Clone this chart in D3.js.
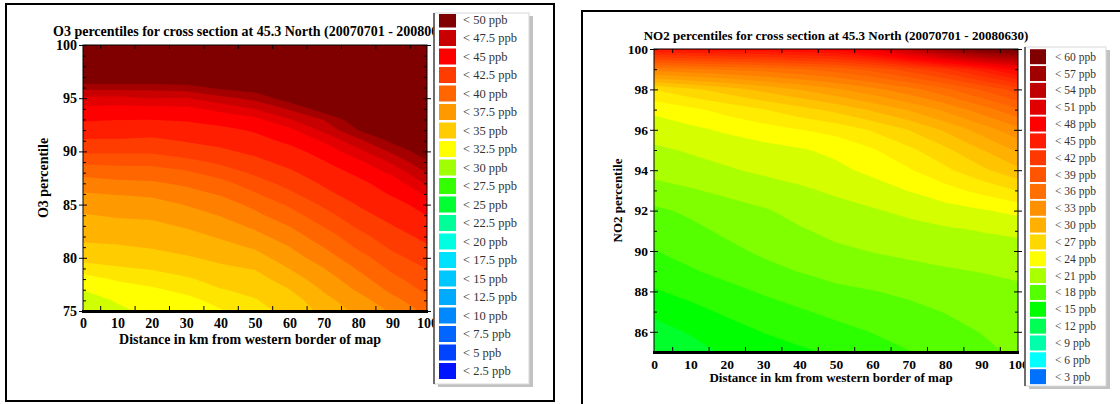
<!DOCTYPE html>
<html>
<head>
<meta charset="utf-8">
<script src="https://cdn.jsdelivr.net/npm/d3@7"></script>
<style>
  body { margin: 0; background: #fff; }
  text { font-family: "Liberation Serif", "Times New Roman", serif; }
</style>
</head>
<body>
<svg id="chart" width="1120" height="404"></svg>
<script>
// Distance along the cross section (km), shared by both panels
const distances = [0, 10, 20, 30, 40, 50, 60, 70, 80, 90, 100];
const distanceTicks = [0, 10, 20, 30, 40, 50, 60, 70, 80, 90, 100];
const distanceMinorTicks = [5, 15, 25, 35, 45, 55, 65, 75, 85, 95];

// O3 (ppb): one row per percentile (75 at the bottom), one value per distance
const o3Percentiles = [75, 76, 77, 78, 79, 80, 81, 82, 83, 84, 85, 86, 87, 88, 89, 90, 91, 92, 93, 94, 95, 96, 97, 98, 99, 100];
const o3Values = [
  [31.1, 31.6, 32.2, 32.3, 33.0, 34.0, 34.7, 36.0, 37.2, 38.3, 39.7],
  [31.3, 32.0, 32.4, 32.7, 33.6, 34.3, 35.0, 36.5, 37.6, 39.0, 40.3],
  [31.9, 32.4, 32.9, 33.5, 34.3, 34.7, 35.6, 37.0, 38.3, 39.7, 40.9],
  [32.6, 33.3, 33.7, 34.2, 34.9, 35.1, 36.3, 37.5, 38.9, 40.3, 41.4],
  [33.7, 34.2, 34.5, 35.0, 35.4, 35.7, 36.9, 38.1, 39.5, 40.9, 41.9],
  [34.9, 35.1, 35.2, 35.5, 35.9, 36.4, 37.5, 38.8, 40.1, 41.5, 42.5],
  [35.4, 35.5, 35.7, 36.0, 36.5, 37.0, 38.1, 39.4, 40.8, 42.1, 43.0],
  [35.9, 36.0, 36.2, 36.5, 37.0, 37.7, 38.8, 40.0, 41.4, 42.7, 43.4],
  [36.4, 36.5, 36.6, 37.0, 37.5, 38.4, 39.4, 40.7, 42.1, 43.1, 43.9],
  [36.8, 37.0, 37.1, 37.5, 38.2, 39.1, 40.1, 41.4, 42.7, 43.6, 44.4],
  [37.3, 37.5, 37.6, 38.2, 38.8, 39.7, 40.8, 42.1, 43.2, 44.0, 44.8],
  [38.0, 38.2, 38.4, 38.9, 39.5, 40.5, 41.6, 42.8, 43.7, 44.5, 45.8],
  [38.9, 39.1, 39.2, 39.6, 40.2, 41.3, 42.3, 43.3, 44.1, 44.9, 47.1],
  [39.7, 39.9, 40.0, 40.4, 41.2, 42.1, 42.9, 43.8, 44.6, 45.9, 48.2],
  [40.9, 41.0, 41.0, 41.5, 42.1, 42.8, 43.5, 44.3, 45.3, 47.1, 49.2],
  [42.1, 42.1, 42.1, 42.5, 42.9, 43.4, 44.0, 44.8, 46.5, 48.4, 50.2],
  [43.0, 43.0, 42.9, 43.2, 43.5, 44.0, 44.6, 45.8, 47.8, 49.7, 50.8],
  [43.8, 43.8, 43.6, 43.8, 44.1, 44.5, 45.3, 47.2, 49.4, 50.5, 51.2],
  [44.5, 44.4, 44.4, 44.5, 44.8, 45.3, 46.8, 48.2, 50.3, 51.0, 51.5],
  [45.3, 45.2, 45.2, 45.3, 46.0, 46.9, 48.3, 50.1, 50.8, 51.3, 51.8],
  [46.6, 46.5, 46.9, 46.8, 47.7, 48.5, 50.1, 50.7, 51.3, 51.6, 52.0],
  [48.6, 48.6, 48.6, 48.8, 49.7, 50.1, 50.8, 51.2, 51.7, 51.9, 52.2],
  [51.0, 51.0, 51.0, 51.0, 51.2, 51.3, 51.4, 51.7, 52.0, 52.1, 52.4],
  [52.0, 52.0, 52.0, 52.0, 52.0, 52.0, 52.0, 52.2, 52.3, 52.4, 52.6],
  [52.5, 52.5, 52.5, 52.5, 52.5, 52.5, 52.5, 52.6, 52.6, 52.7, 52.8],
  [53.0, 53.0, 53.0, 53.0, 53.0, 53.0, 53.0, 53.0, 53.0, 53.0, 53.0]
];
const o3PercentileTicks = [75, 80, 85, 90, 95, 100];

// NO2 (ppb): one row per percentile (85 at the bottom), one value per distance
const no2Percentiles = [85, 86, 87, 88, 89, 90, 91, 92, 93, 94, 95, 96, 97, 98, 99, 100];
const no2Values = [
  [12.8, 13.6, 14.5, 15.0, 15.5, 16.0, 16.6, 17.2, 17.8, 18.4, 19.0],
  [13.6, 14.4, 15.1, 15.8, 16.3, 16.8, 17.3, 17.8, 18.3, 18.8, 19.2],
  [14.6, 15.3, 16.0, 16.6, 17.1, 17.6, 18.0, 18.4, 18.8, 19.2, 19.5],
  [15.6, 16.2, 16.8, 17.4, 17.9, 18.4, 18.7, 19.0, 19.4, 19.7, 20.0],
  [16.5, 17.1, 17.7, 18.3, 18.8, 19.3, 19.6, 19.8, 20.1, 20.3, 20.5],
  [17.2, 17.8, 18.4, 19.0, 19.5, 20.0, 20.3, 20.6, 20.8, 21.1, 21.3],
  [17.8, 18.4, 19.0, 19.6, 20.1, 20.6, 20.9, 21.2, 21.5, 21.8, 22.0],
  [18.5, 19.0, 19.6, 20.1, 20.7, 21.2, 21.6, 22.1, 22.6, 23.1, 23.7],
  [19.6, 20.1, 20.6, 21.1, 21.5, 22.0, 22.6, 23.3, 24.2, 25.2, 26.3],
  [20.8, 21.2, 21.6, 22.0, 22.4, 22.9, 23.6, 24.6, 25.9, 27.4, 28.9],
  [21.5, 21.9, 22.3, 22.7, 23.1, 23.6, 24.6, 25.9, 27.4, 29.2, 31.0],
  [22.4, 22.9, 23.5, 24.1, 24.7, 25.3, 26.4, 27.8, 29.5, 31.4, 33.3],
  [23.6, 24.4, 25.3, 26.2, 27.2, 28.2, 29.5, 30.9, 32.6, 34.5, 36.5],
  [26.3, 27.4, 28.5, 29.7, 30.8, 32.0, 33.3, 34.7, 36.4, 38.4, 40.5],
  [34.5, 35.0, 35.5, 36.0, 36.7, 37.5, 38.8, 40.5, 42.5, 45.0, 48.0],
  [46.0, 46.5, 47.0, 47.0, 47.5, 48.0, 50.0, 54.0, 58.0, 61.0, 62.0]
];
const no2PercentileTicks = [86, 88, 90, 92, 94, 96, 98, 100];

// Legend classes (upper bounds) and their colours
const o3LegendLevels = [50, 47.5, 45, 42.5, 40, 37.5, 35, 32.5, 30, 27.5, 25, 22.5, 20, 17.5, 15, 12.5, 10, 7.5, 5, 2.5];
const o3LegendColors = ["#800000", "#c80000", "#ff0000", "#ff3c00", "#ff6600", "#ff9900", "#ffcc00", "#ffff00", "#a0ff00", "#33ff00",
  "#00ff33", "#00ff99", "#00ffe0", "#00e0ff", "#00c8ff", "#00aaff", "#0088ff", "#0066ff", "#0044ff", "#0014ff"];
const no2LegendLevels = [60, 57, 54, 51, 48, 45, 42, 39, 36, 33, 30, 27, 24, 21, 18, 15, 12, 9, 6, 3];
const no2LegendColors = ["#800000", "#a00000", "#c00000", "#e00000", "#ff0000", "#ff1c00", "#ff3800", "#ff5400", "#ff7000", "#ff9000",
  "#ffb000", "#ffd800", "#ffff00", "#aaff00", "#55ff00", "#00ff00", "#00ff55", "#00ffaa", "#00ffff", "#0070ff"];

const svg = d3.select("#chart");

// Panel frames
svg.append("rect")
  .attr("x", 6).attr("y", 4).attr("width", 548).attr("height", 397)
  .attr("fill", "none").attr("stroke", "#000").attr("stroke-width", 2);
svg.append("path")
  .attr("d", "M582,405 V11 H1121")
  .attr("fill", "none").attr("stroke", "#000").attr("stroke-width", 2);

function drawPanel(p) {
  const x = d3.scaleLinear().domain([0, 100]).range([p.left, p.right]);
  const y = d3.scaleLinear()
    .domain([p.percentiles[0], p.percentiles[p.percentiles.length - 1]])
    .range([p.bottom, p.top]);
  const color = d3.scaleLinear()
    .domain(p.levels.slice().reverse())
    .range(p.colors.slice().reverse())
    .clamp(true);

  // Filled contour bands from the value grid, centred on multiples of the step
  const flat = p.values.flat();
  const half = p.step / 2;
  const start = Math.floor((d3.min(flat) - half) / p.step) * p.step + half - p.step;
  const thresholds = d3.range(start, d3.max(flat), p.step);
  const bands = d3.contours()
    .size([distances.length, p.percentiles.length])
    .thresholds(thresholds)(flat);
  const dx = distances[1] - distances[0];
  const dy = p.percentiles[1] - p.percentiles[0];
  const path = d3.geoPath(d3.geoTransform({
    point(gx, gy) {
      this.stream.point(x(distances[0] + (gx - 0.5) * dx), y(p.percentiles[0] + (gy - 0.5) * dy));
    }
  }));

  svg.append("clipPath").attr("id", p.id + "-clip")
    .append("rect")
    .attr("x", p.left).attr("y", p.top)
    .attr("width", p.right - p.left).attr("height", p.bottom - p.top);

  svg.append("g")
    .attr("clip-path", `url(#${p.id}-clip)`)
    .selectAll("path")
    .data(bands)
    .join("path")
    .attr("d", path)
    .attr("fill", d => color(d.value + half));

  // Plot border, thick base line
  svg.append("rect")
    .attr("x", p.left).attr("y", p.top)
    .attr("width", p.right - p.left).attr("height", p.bottom - p.top)
    .attr("fill", "none").attr("stroke", "#000").attr("stroke-width", 1);
  svg.append("line")
    .attr("x1", p.left - 1).attr("x2", p.right + 1)
    .attr("y1", p.bottom + 0.5).attr("y2", p.bottom + 0.5)
    .attr("stroke", "#000").attr("stroke-width", 3);

  const minorY = p.percentiles.filter(v => !p.yTicks.includes(v));

  // Left axis with labels
  const yAxis = svg.append("g")
    .attr("transform", `translate(${p.left},0)`)
    .call(d3.axisLeft(y).tickValues(p.yTicks).tickSize(4).tickPadding(2));
  yAxis.select(".domain").remove();
  yAxis.selectAll("text")
    .style("font-size", p.labelFont + "px").style("font-weight", "bold")
    .style("font-family", "Liberation Serif, serif").attr("fill", "#000");

  svg.append("g")
    .attr("transform", `translate(${p.left},0)`)
    .call(d3.axisLeft(y).tickValues(minorY).tickSize(-3).tickFormat(""))
    .select(".domain").remove();
  svg.append("g")
    .attr("transform", `translate(${p.left},0)`)
    .call(d3.axisLeft(y).tickValues(p.yTicks).tickSize(-4).tickFormat(""))
    .select(".domain").remove();

  // Right axis ticks
  [[4, p.yTicks], [-4, p.yTicks], [-3, minorY]].forEach(([size, vals]) => {
    svg.append("g")
      .attr("transform", `translate(${p.right},0)`)
      .call(d3.axisRight(y).tickValues(vals).tickSize(size).tickFormat(""))
      .select(".domain").remove();
  });

  // Bottom axis labels
  const xAxis = svg.append("g")
    .attr("transform", `translate(0,${p.bottom})`)
    .call(d3.axisBottom(x).tickValues(distanceTicks).tickSize(0).tickPadding(7));
  xAxis.select(".domain").remove();
  xAxis.selectAll("text")
    .style("font-size", p.labelFont + "px").style("font-weight", "bold")
    .style("font-family", "Liberation Serif, serif").attr("fill", "#000");

  // Inward ticks on top and bottom
  svg.append("g")
    .attr("transform", `translate(0,${p.bottom - 1})`)
    .call(d3.axisBottom(x).tickValues(distanceMinorTicks).tickSize(-4).tickFormat(""))
    .select(".domain").remove();
  svg.append("g")
    .attr("transform", `translate(0,${p.top})`)
    .call(d3.axisTop(x).tickValues(distanceMinorTicks).tickSize(-4).tickFormat(""))
    .select(".domain").remove();

  // Titles
  svg.append("text")
    .attr("x", (p.left + p.right) / 2).attr("y", p.titleY)
    .attr("text-anchor", "middle")
    .style("font-size", p.font + "px").style("font-weight", "bold")
    .text(p.title);

  svg.append("text")
    .attr("x", p.xTitleX).attr("y", p.xTitleY)
    .attr("text-anchor", "middle")
    .style("font-size", p.font + "px").style("font-weight", "bold")
    .text("Distance in km from western border of map");

  svg.append("text")
    .attr("transform", `translate(${p.yTitleX},${(p.top + p.bottom) / 2}) rotate(-90)`)
    .attr("text-anchor", "middle")
    .style("font-size", p.font + "px").style("font-weight", "bold")
    .text(p.yTitle);
}

function drawLegend(lg) {
  const g = svg.append("g");
  // drop shadow
  g.append("rect")
    .attr("x", lg.x + 4).attr("y", lg.y + 3)
    .attr("width", lg.w).attr("height", lg.h)
    .attr("fill", "#c2c2c2");
  g.append("rect")
    .attr("x", lg.x).attr("y", lg.y)
    .attr("width", lg.w).attr("height", lg.h)
    .attr("fill", "#fff").attr("stroke", "#d8d8d8");
  g.append("line")
    .attr("x1", lg.x).attr("x2", lg.x)
    .attr("y1", lg.y).attr("y2", lg.y + lg.h)
    .attr("stroke", "#444").attr("stroke-width", 1.5);

  g.append("clipPath").attr("id", lg.id + "-clip")
    .append("rect")
    .attr("x", lg.x).attr("y", lg.y + 1)
    .attr("width", lg.w).attr("height", lg.h - 1);

  const items = g.append("g")
    .attr("clip-path", `url(#${lg.id}-clip)`)
    .selectAll("g")
    .data(lg.levels)
    .join("g")
    .attr("transform", (d, i) => `translate(0,${lg.first + i * lg.pitch})`);

  items.append("rect")
    .attr("x", lg.swatchX).attr("y", -lg.swatchH / 2)
    .attr("width", lg.swatchW).attr("height", lg.swatchH)
    .attr("fill", (d, i) => lg.colors[i]);

  items.append("text")
    .attr("x", lg.textX).attr("dy", "0.35em")
    .style("font-size", lg.font + "px")
    .attr("fill", "#333")
    .text(d => `< ${d} ppb`);
}

drawPanel({
  id: "o3", left: 83, right: 427, top: 45, bottom: 311,
  percentiles: o3Percentiles, values: o3Values, yTicks: o3PercentileTicks,
  levels: o3LegendLevels, colors: o3LegendColors, step: 1.25, font: 14, labelFont: 14,
  title: "O3 percentiles for cross section at 45.3 North (20070701 - 20080630)", titleY: 36,
  xTitleX: 250, xTitleY: 344, yTitle: "O3 percentile", yTitleX: 48
});

drawPanel({
  id: "no2", left: 654, right: 1018, top: 49, bottom: 352,
  percentiles: no2Percentiles, values: no2Values, yTicks: no2PercentileTicks,
  levels: no2LegendLevels, colors: no2LegendColors, step: 1.5, font: 13, labelFont: 13.5,
  title: "NO2 percentiles for cross section at 45.3 North (20070701 - 20080630)", titleY: 40,
  xTitleX: 831, xTitleY: 382, yTitle: "NO2 percentile", yTitleX: 621.5
});

drawLegend({
  id: "o3-legend", x: 434, y: 13, w: 95, h: 371,
  levels: o3LegendLevels, colors: o3LegendColors,
  first: 19.5, pitch: 18.5, swatchX: 439, swatchW: 17, swatchH: 16, textX: 463, font: 12.5
});

drawLegend({
  id: "no2-legend", x: 1025, y: 47, w: 81, h: 339,
  levels: no2LegendLevels, colors: no2LegendColors,
  first: 56.7, pitch: 16.84, swatchX: 1030, swatchW: 16, swatchH: 15, textX: 1055, font: 11.5
});
</script>
</body>
</html>
